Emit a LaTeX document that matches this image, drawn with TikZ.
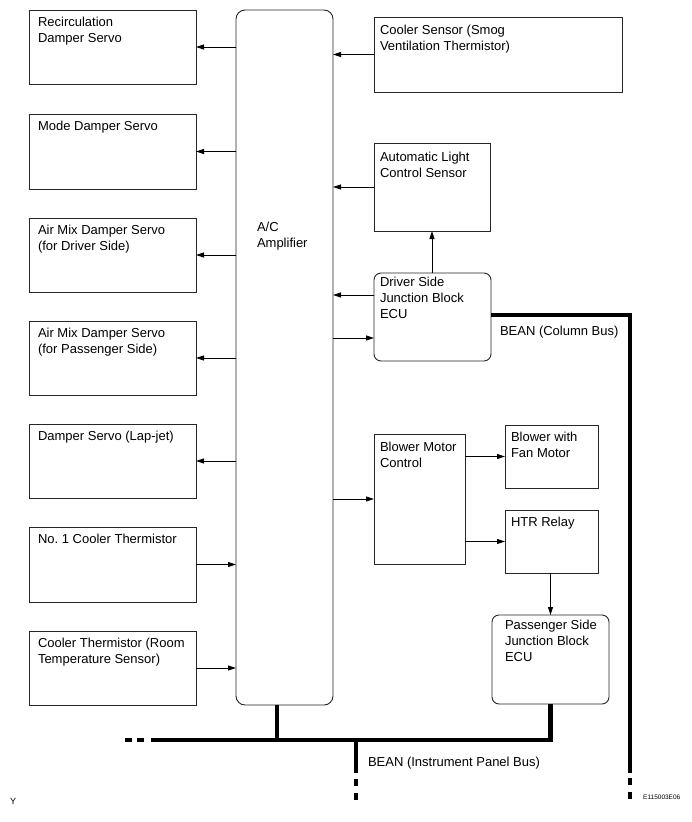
\documentclass[tikz,border=0pt]{standalone}
\usepackage{fontspec}
\setmainfont{Liberation Sans}
\usetikzlibrary{arrows.meta,calc}
\frenchspacing
\begin{document}
\begin{tikzpicture}[x=1pt,y=-1pt,
  box/.style={draw=black!85,line width=0.9pt,inner sep=0pt,outer sep=0pt,anchor=north west},
  rbox/.style={box,rounded corners=7pt},
  lbl/.style={inner sep=0pt,outer sep=0pt,anchor=north west,align=left,font=\fontsize{13}{16}\selectfont},
  arr/.style={line width=0.8pt,-{Triangle[length=8pt,width=5pt]}},
  bus/.style={line width=4.5pt,line join=miter},
  busdash/.style={line width=4.5pt,line cap=butt}
]
\useasboundingbox (0,0) rectangle (691,822);
% left boxes
\node[box,minimum width=167pt,minimum height=74pt] (rds) at (29,10) {};
\node[box,minimum width=167pt,minimum height=75pt] (mds) at (29,114) {};
\node[box,minimum width=167pt,minimum height=74pt] (amd) at (29,218) {};
\node[box,minimum width=167pt,minimum height=74pt] (amp2) at (29,321) {};
\node[box,minimum width=167pt,minimum height=74pt] (dsl) at (29,424) {};
\node[box,minimum width=167pt,minimum height=75pt] (nct) at (29,527) {};
\node[box,minimum width=167pt,minimum height=74pt] (ctr) at (29,631) {};
\node[lbl] (trds) at ($(rds.north west)+(9,7)$) {Recirculation\\Damper Servo};
\node[lbl] (tmds) at ($(mds.north west)+(9,7)$) {Mode Damper Servo};
\node[lbl] (tamd) at ($(amd.north west)+(9,7)$) {Air Mix Damper Servo\\(for Driver Side)};
\node[lbl] (tamp2) at ($(amp2.north west)+(9,7)$) {Air Mix Damper Servo\\(for Passenger Side)};
\node[lbl] (tdsl) at ($(dsl.north west)+(9,7)$) {Damper Servo (Lap-jet)};
\node[lbl] (tnct) at ($(nct.north west)+(9,7)$) {No. 1 Cooler Thermistor};
\node[lbl] (tctr) at ($(ctr.north west)+(9,7)$) {Cooler Thermistor (Room\\Temperature Sensor)};
% amplifier
\node[box,rounded corners=9pt,minimum width=97pt,minimum height=695pt] (amp) at (236,10) {};
\node[lbl] (tamp) at (257,222) {A/C\\Amplifier};
% right boxes
\node[box,minimum width=248pt,minimum height=75pt] (cs) at (374,17) {};
\node[box,minimum width=116pt,minimum height=88pt] (alc) at (374,143) {};
\node[rbox,minimum width=117pt,minimum height=88pt] (decu) at (374,273) {};
\node[box,minimum width=91pt,minimum height=130pt] (bmc) at (374,434) {};
\node[box,minimum width=93pt,minimum height=63pt] (bfm) at (505,425) {};
\node[box,minimum width=93pt,minimum height=63pt] (htr) at (505,510) {};
\node[rbox,minimum width=117pt,minimum height=89pt] (pecu) at (492,615) {};
\node[lbl] (tcs) at ($(cs.north west)+(6,8)$) {Cooler Sensor (Smog\\Ventilation Thermistor)};
\node[lbl] (talc) at ($(alc.north west)+(6,9)$) {Automatic Light\\Control Sensor};
\node[lbl] (tdecu) at ($(decu.north west)+(6,4)$) {Driver Side\\Junction Block\\ECU};
\node[lbl] (tbmc) at ($(bmc.north west)+(6,8)$) {Blower Motor\\Control};
\node[lbl] (tbfm) at ($(bfm.north west)+(6,7)$) {Blower with\\Fan Motor};
\node[lbl] (thtr) at ($(htr.north west)+(6,7)$) {HTR Relay};
\node[lbl] (tpecu) at ($(pecu.north west)+(13,5)$) {Passenger Side\\Junction Block\\ECU};
% arrows left
\foreach \b in {rds,mds,amd,amp2,dsl}{
  \draw[arr] (\b.east -| amp.west) -- (\b.east);
}
\draw[arr] (nct.east) -- (nct.east -| amp.west);
\draw[arr] (ctr.east) -- (ctr.east -| amp.west);
% arrows right
\draw[arr] (cs.west) -- (cs.west -| amp.east);
\draw[arr] (alc.west) -- (alc.west -| amp.east);
\coordinate (d1) at ($(decu.west)+(0,-22)$);
\coordinate (d2) at ($(decu.west)+(0,21)$);
\draw[arr] (d1) -- (d1 -| amp.east);
\draw[arr] (d2 -| amp.east) -- (d2);
\draw[arr] (decu.north -| alc.south) -- (alc.south);
\draw[arr] (bmc.west -| amp.east) -- (bmc.west);
\draw[arr] (bfm.west -| bmc.east) -- (bfm.west);
\draw[arr] (htr.west -| bmc.east) -- (htr.west);
\draw[arr] (htr.south -| pecu.north) -- (pecu.north);
% column bus
\coordinate (cbEnd) at (630,773);
\coordinate (cbD1) at (630,778);
\coordinate (cbD2) at (630,800);
\coordinate (cbS) at ($(decu.east)+(0,-2)$);
\draw[bus] (cbS) -- (cbS -| cbEnd) -- (cbEnd);
\draw[busdash,dash pattern=on 7pt off 7pt] (cbD1) -- (cbD2);
\node[lbl] (tcb) at (500,326) {BEAN (Column Bus)};
% instrument panel bus
\coordinate (ipL) at (151,740);
\coordinate (ampTap) at (277,705);
\coordinate (ipB) at (356,740);
\coordinate (ipBEnd) at (356,773);
\coordinate (ipD1) at (356,779);
\coordinate (ipD2) at (356,800);
\coordinate (ipL1) at (125,740);
\coordinate (ipL2) at (145,740);
\draw[bus] (pecu.south) |- (ipL);
\draw[bus] (ampTap) -- (ampTap |- ipL);
\draw[bus] (ipB) -- (ipBEnd);
\draw[busdash,dash pattern=on 7pt off 7pt] (ipD1) -- (ipD2);
\draw[busdash,dash pattern=on 7pt off 5pt] (ipL1) -- (ipL2);
\node[lbl] (tip) at (368,757) {BEAN (Instrument Panel Bus)};
% corner marks
\node[inner sep=0pt,anchor=west,font=\fontsize{9}{10}\selectfont] (ymark) at (10,801) {Y};
\node[inner sep=0pt,anchor=west,font=\fontsize{6.5}{7}\selectfont] (code) at (643,797) {E115003E06};
\end{tikzpicture}
\end{document}
